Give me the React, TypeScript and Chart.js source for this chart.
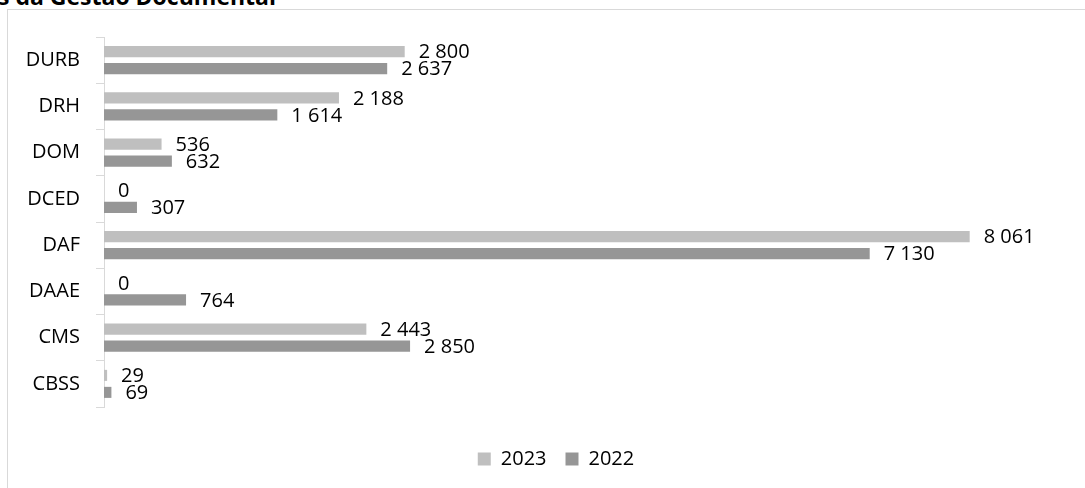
import React, { useEffect, useRef } from 'react';
import { Chart, registerables } from 'chart.js';

Chart.register(...registerables);

const categories = ['DURB', 'DRH', 'DOM', 'DCED', 'DAF', 'DAAE', 'CMS', 'CBSS'];
const values2023 = [2800, 2188, 536, 0, 8061, 0, 2443, 29];
const values2022 = [2637, 1614, 632, 307, 7130, 764, 2850, 69];
const seriesNames = ['2023', '2022'];
const titleText = 's da Gestão Documental';
const axisMax = 9200;

const FONT = '"Open Sans", "Noto Sans", sans-serif';
const CANVAS_W = 1110;

const fmt = (v: number) => String(v).replace(/\B(?=(\d{3})+(?!\d))/g, ' ');

const labelPlugin = {
  id: 'barLabels',
  afterDatasetsDraw(chart: any) {
    const ctx = chart.ctx;
    ctx.save();
    ctx.font = `20px ${FONT}`;
    ctx.fillStyle = '#000';
    ctx.textAlign = 'left';
    ctx.textBaseline = 'middle';
    chart.data.datasets.forEach((ds: any, i: number) => {
      const meta = chart.getDatasetMeta(i);
      meta.data.forEach((el: any, j: number) => {
        ctx.fillText(fmt(ds.data[j] as number), el.x + 14, el.y + 1);
      });
    });
    ctx.restore();
  },
};

export default function App() {
  const ref = useRef<HTMLCanvasElement | null>(null);

  useEffect(() => {
    if (!ref.current) return;
    const chart = new Chart(ref.current, {
      type: 'bar',
      data: {
        labels: categories,
        datasets: [
          {
            label: seriesNames[0],
            data: values2023,
            backgroundColor: '#bfbfbf',
            categoryPercentage: 0.735,
            barPercentage: 0.65,
          },
          {
            label: seriesNames[1],
            data: values2022,
            backgroundColor: '#969696',
            categoryPercentage: 0.735,
            barPercentage: 0.65,
          },
        ],
      },
      options: {
        indexAxis: 'y',
        responsive: false,
        animation: false,
        layout: { padding: { left: 20, right: 18, top: 37, bottom: 9 } },
        plugins: {
          legend: {
            position: 'bottom',
            labels: {
              boxWidth: 13,
              boxHeight: 13,
              padding: 19,
              color: '#000',
              font: { family: FONT, size: 20 },
            },
          },
          tooltip: { enabled: false },
          title: { display: false },
        },
        scales: {
          x: {
            min: 0,
            max: axisMax,
            ticks: { display: false },
            grid: { display: false },
            border: { display: false },
            afterFit: (s: any) => {
              s.height = 23;
            },
          },
          y: {
            ticks: { color: '#000', padding: 16, font: { family: FONT, size: 20 } },
            grid: { offset: true, drawOnChartArea: false, tickLength: 8, color: '#d9d9d9' },
            border: { color: '#d9d9d9' },
            afterFit: (s: any) => {
              s.width = 84;
            },
          },
        },
      } as any,
      plugins: [labelPlugin],
    });
    return () => chart.destroy();
  }, []);

  return (
    <div
      style={{
        position: 'fixed',
        left: 0,
        top: 0,
        width: 1085,
        height: 488,
        background: '#fff',
        overflow: 'hidden',
      }}
    >
      <div
        style={{
          position: 'absolute',
          left: 7,
          top: 9,
          width: 1200,
          height: 600,
          borderLeft: '1px solid #d9d9d9',
          borderTop: '1px solid #d9d9d9',
        }}
      />
      <div
        style={{
          position: 'absolute',
          left: -2,
          top: -17,
          fontFamily: FONT,
          fontWeight: 'bold',
          fontSize: 23,
          lineHeight: '26px',
          color: '#000',
          whiteSpace: 'nowrap',
        }}
      >
        {titleText}
      </div>
      <canvas
        ref={ref}
        width={CANVAS_W}
        height={488}
        style={{ position: 'absolute', left: 0, top: 0 }}
      />
    </div>
  );
}
